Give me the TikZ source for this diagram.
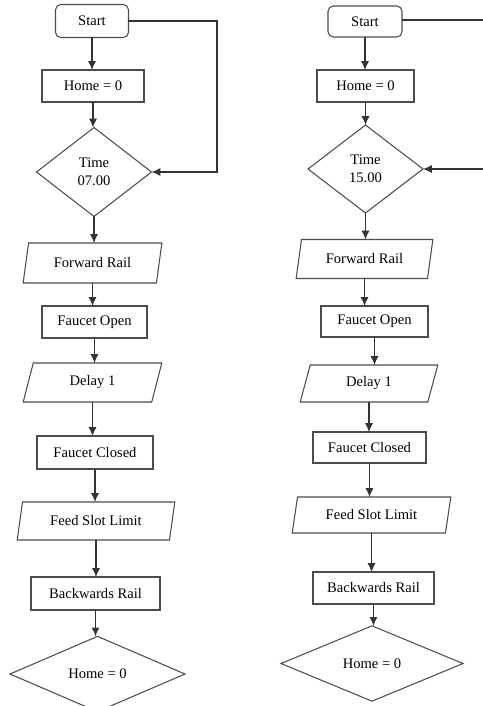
\documentclass[tikz,border=0pt]{standalone}
\usepackage{fontspec}
\setmainfont{Liberation Serif}
\usetikzlibrary{shapes.geometric,arrows.meta}

\begin{document}
\begin{tikzpicture}[x=0.02cm, y=-0.02cm, font=\fontsize{8.3}{10}\selectfont,
	box/.style={draw=black!70, line width=0.6pt, inner sep=1pt, outer sep=0pt, align=center},
	term/.style={box, rectangle, rounded corners=3pt},
	proc/.style={box, rectangle},
	io/.style={box, trapezium, trapezium left angle=76, trapezium right angle=104, trapezium stretches=true},
	decide/.style={box, diamond},
	flow/.style={draw=black!80, line width=0.6pt, -{Latex[length=5pt,width=4.5pt]}}]
	\useasboundingbox (0,0) rectangle (483,706);
	%left chart
	\node[term, minimum width=1.46cm, minimum height=0.66cm] (lstart) at (92,21) {Start};
	\node[proc, minimum width=2.04cm, minimum height=0.64cm] (lhome) at (93,86) {Home = 0};
	\node[decide, minimum width=2.30cm, minimum height=1.78cm] (ltime) at (94,172) {Time\\07.00};
	\node[io, minimum width=2.78cm, minimum height=0.80cm] (lfwd) at (92.5,263) {Forward Rail};
	\node[proc, minimum width=2.10cm, minimum height=0.64cm] (lopen) at (94.5,322) {Faucet Open};
	\node[io, minimum width=2.78cm, minimum height=0.78cm] (ldelay) at (92.5,382.5) {Delay 1};
	\node[proc, minimum width=2.32cm, minimum height=0.66cm] (lclosed) at (95,452.5) {Faucet Closed};
	\node[io, minimum width=3.16cm, minimum height=0.76cm] (lfeed) at (96,521) {Feed Slot Limit};
	\node[proc, minimum width=2.58cm, minimum height=0.66cm] (lback) at (95.5,593.5) {Backwards Rail};
	\node[decide, minimum width=3.50cm, minimum height=1.28cm] (lend) at (97.5,674) {Home = 0};
	\coordinate (lbend) at (217,21);
	%right chart
	\node[term, minimum width=1.48cm, minimum height=0.62cm] (rstart) at (365,21.5) {Start};
	\node[proc, minimum width=1.94cm, minimum height=0.64cm] (rhome) at (365.5,86) {Home = 0};
	\node[decide, minimum width=2.30cm, minimum height=1.76cm] (rtime) at (365.5,169) {Time\\15.00};
	\node[io, minimum width=2.74cm, minimum height=0.78cm] (rfwd) at (364.5,259) {Forward Rail};
	\node[proc, minimum width=2.14cm, minimum height=0.62cm] (ropen) at (374.5,321.5) {Faucet Open};
	\node[io, minimum width=2.76cm, minimum height=0.74cm] (rdelay) at (369,383.5) {Delay 1};
	\node[proc, minimum width=2.26cm, minimum height=0.62cm] (rclosed) at (369.5,447.5) {Faucet Closed};
	\node[io, minimum width=3.18cm, minimum height=0.72cm] (rfeed) at (371.5,515) {Feed Slot Limit};
	\node[proc, minimum width=2.42cm, minimum height=0.64cm] (rback) at (373.5,588) {Backwards Rail};
	\node[decide, minimum width=3.64cm, minimum height=1.10cm] (rend) at (372,663.5) {Home = 0};
	\coordinate (rout) at (483,20);
	\coordinate (rin) at (483,169);
	%arrows
	\foreach \a/\b in {lstart/lhome, lhome/ltime, ltime/lfwd, lfwd/lopen, lopen/ldelay, ldelay/lclosed,
		lclosed/lfeed, lfeed/lback, lback/lend, rstart/rhome, rhome/rtime, rtime/rfwd, rfwd/ropen,
		ropen/rdelay, rdelay/rclosed, rclosed/rfeed, rfeed/rback, rback/rend}
	\draw[flow] (\a.south) -- (\a.south |- \b.north);
	%loops
	\draw[flow] (lstart.east) -- (lbend) |- (ltime.east);
	\draw[draw=black!80, line width=0.6pt] (rstart.east |- rout) -- (rout);
	\draw[flow] (rtime.east -| rin) -- (rtime.east);
\end{tikzpicture}
\end{document}
